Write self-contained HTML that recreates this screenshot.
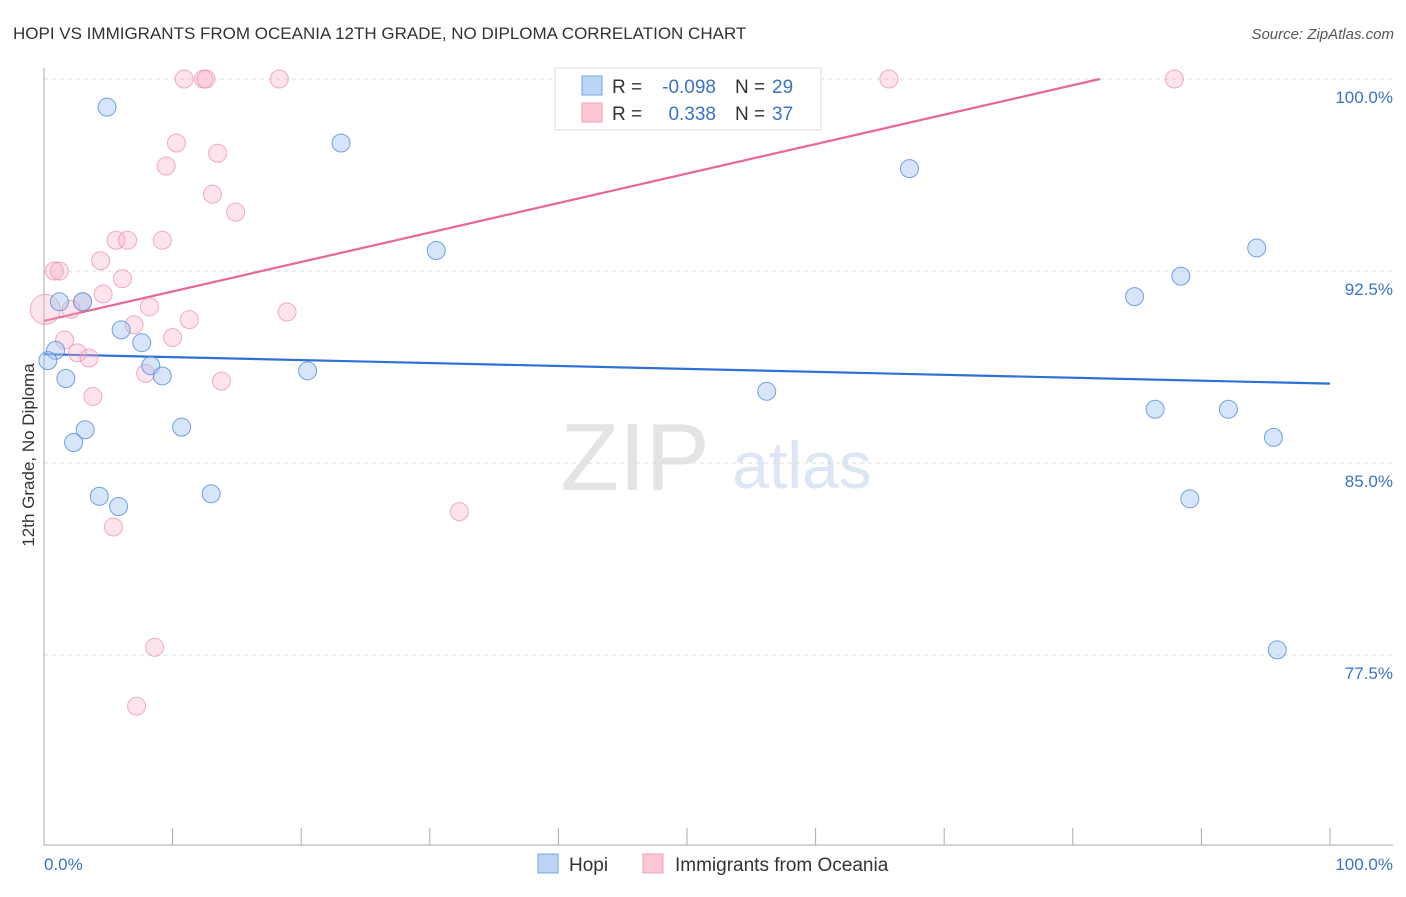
<!DOCTYPE html>
<html><head><meta charset="utf-8"><style>
body{margin:0;background:#fff;font-family:"Liberation Sans",sans-serif}
svg text{font-family:"Liberation Sans",sans-serif}
</style></head><body>
<svg id="chart" width="1406" height="892" viewBox="0 0 1406 892" xmlns="http://www.w3.org/2000/svg">
<text x="13" y="39" font-size="17" fill="#333">HOPI VS IMMIGRANTS FROM OCEANIA 12TH GRADE, NO DIPLOMA CORRELATION CHART</text>
<text x="1394" y="39" font-size="15" fill="#555" text-anchor="end" font-style="italic">Source: ZipAtlas.com</text>
<g>
<text x="635" y="490" font-size="96" fill="#e4e4e4" text-anchor="middle" font-family="Liberation Serif, serif">ZIP</text>
<text x="802" y="488" font-size="66" fill="#dce6f4" text-anchor="middle">atlas</text>
</g>
<g id="grid"></g>
<g id="axes"></g>
<g id="trend"></g>
<g id="points"></g>
<text transform="translate(34,455) rotate(-90)" font-size="17" fill="#333" text-anchor="middle">12th Grade, No Diploma</text>
<g>
<rect x="555" y="68" width="266" height="62" fill="#fff" stroke="#ddd"/>
<rect x="582" y="76" width="20" height="19" fill="#bcd4f6" stroke="#7aa6e6"/>
<text x="612" y="93" font-size="19" fill="#333">R =</text>
<text x="716" y="93" font-size="19" fill="#3a72c8" text-anchor="end">-0.098</text>
<text x="735" y="93" font-size="19" fill="#333">N =</text>
<text x="772" y="93" font-size="19" fill="#3a72c8">29</text>
<rect x="582" y="103" width="20" height="19" fill="#fcc8d6" stroke="#f0a0b8"/>
<text x="612" y="120" font-size="19" fill="#333">R =</text>
<text x="716" y="120" font-size="19" fill="#3a72c8" text-anchor="end">0.338</text>
<text x="735" y="120" font-size="19" fill="#333">N =</text>
<text x="772" y="120" font-size="19" fill="#3a72c8">37</text>
</g>
<g>
<rect x="538" y="854" width="20" height="19" fill="#bcd4f6" stroke="#7aa6e6"/>
<text x="569" y="871" font-size="19" fill="#333">Hopi</text>
<rect x="643" y="854" width="20" height="19" fill="#fcc8d6" stroke="#f0a0b8"/>
<text x="675" y="871" font-size="19" fill="#333">Immigrants from Oceania</text>
</g>
</svg>
<script>
const hopiX=[4.9,23.1,67.3,30.5,94.3,88.4,84.8,1.2,3.0,6.0,7.6,0.9,0.3,8.3,1.7,9.2,20.5,56.2,86.4,92.1,3.2,10.7,2.3,95.6,4.3,5.8,13.0,89.1,95.9];
const hopiY=[98.9,97.5,96.5,93.3,93.4,92.3,91.5,91.3,91.3,90.2,89.7,89.4,89.0,88.8,88.3,88.4,88.6,87.8,87.1,87.1,86.3,86.4,85.8,86.0,83.7,83.3,83.8,83.6,77.7];
const oceX=[10.9,12.4,12.6,18.3,65.7,87.9,10.3,13.5,9.5,13.1,14.9,5.6,6.5,9.2,4.4,0.8,1.2,6.1,4.6,3.0,0.1,2.1,8.2,18.9,11.3,7.0,1.6,10.0,2.6,3.5,7.9,13.8,3.8,32.3,5.4,8.6,7.2];
const oceY=[100,100,100,100,100,100,97.5,97.1,96.6,95.5,94.8,93.7,93.7,93.7,92.9,92.5,92.5,92.2,91.6,91.3,91.0,91.0,91.1,90.9,90.6,90.4,89.8,89.9,89.3,89.1,88.5,88.2,87.6,83.1,82.5,77.8,75.5];
const hopiTrend=[89.25,88.1];   // y at x=0 and x=100
const oceTrend=[90.55,102.06];
const yTicks=[100,92.5,85,77.5];
const yTickLabels=["100.0%","92.5%","85.0%","77.5%"];
const xTicks=[0,10,20,30,40,50,60,70,80,90,100];

const NS="http://www.w3.org/2000/svg";
const X0=44,X1=1330,Y100=79,PXPER=25.6;
const sx=v=>X0+(X1-X0)*v/100;
const sy=v=>Y100+(100-v)*PXPER;
function mk(tag,attrs,parent){const e=document.createElementNS(NS,tag);for(const k in attrs)e.setAttribute(k,attrs[k]);parent.appendChild(e);return e;}
const grid=document.getElementById('grid'),axes=document.getElementById('axes'),trend=document.getElementById('trend'),pts=document.getElementById('points');
yTicks.forEach((t,i)=>{
  const l=mk('line',{x1:44,x2:1393,y1:sy(t),y2:sy(t),stroke:'#ddd','stroke-dasharray':'4,4'},grid);
  
  
  const tx=mk('text',{x:1393,y:sy(t)+24,'font-size':17,fill:'#3a72c8','text-anchor':'end'},grid);
  tx.textContent=yTickLabels[i];
  
  
});
let a=mk('line',{x1:44,x2:44,y1:68,y2:845,stroke:'#aaa'},axes);


a=mk('line',{x1:44,x2:1393,y1:845,y2:845,stroke:'#aaa'},axes);


xTicks.forEach(t=>{
  const l=mk('line',{x1:sx(t),x2:sx(t),y1:828,y2:845,stroke:'#aaa'},axes);
  
  
});
let t0=mk('text',{x:44,y:870,'font-size':17,fill:'#3a72c8'},axes);t0.textContent='0.0%';


let t1=mk('text',{x:1393,y:870,'font-size':17,fill:'#3a72c8','text-anchor':'end'},axes);t1.textContent='100.0%';



function drawTrend(tr,color,name){
  let xe=100,ye=tr[1];
  if(ye>100){xe=(100-tr[0])/(tr[1]-tr[0])*100;ye=100;}
  const l=mk('line',{x1:sx(0),y1:sy(tr[0]),x2:sx(xe),y2:sy(ye),stroke:color,'stroke-width':2.2},trend);
  
  
}
drawTrend(hopiTrend,'#2f6fd6','hopi-trend-line');
drawTrend(oceTrend,'#e86890','oceania-trend-line');

oceX.forEach((x,i)=>{
  const c=mk('circle',{cx:sx(x),cy:sy(oceY[i]),r:(i==20?15:9),fill:'rgba(248,175,198,0.35)',stroke:'rgba(235,140,170,0.7)','stroke-width':1},pts);
  
  
});
hopiX.forEach((x,i)=>{
  const c=mk('circle',{cx:sx(x),cy:sy(hopiY[i]),r:9,fill:'rgba(165,198,240,0.45)',stroke:'rgba(80,140,220,0.8)','stroke-width':1},pts);
  
  
});
</script>
</body></html>
